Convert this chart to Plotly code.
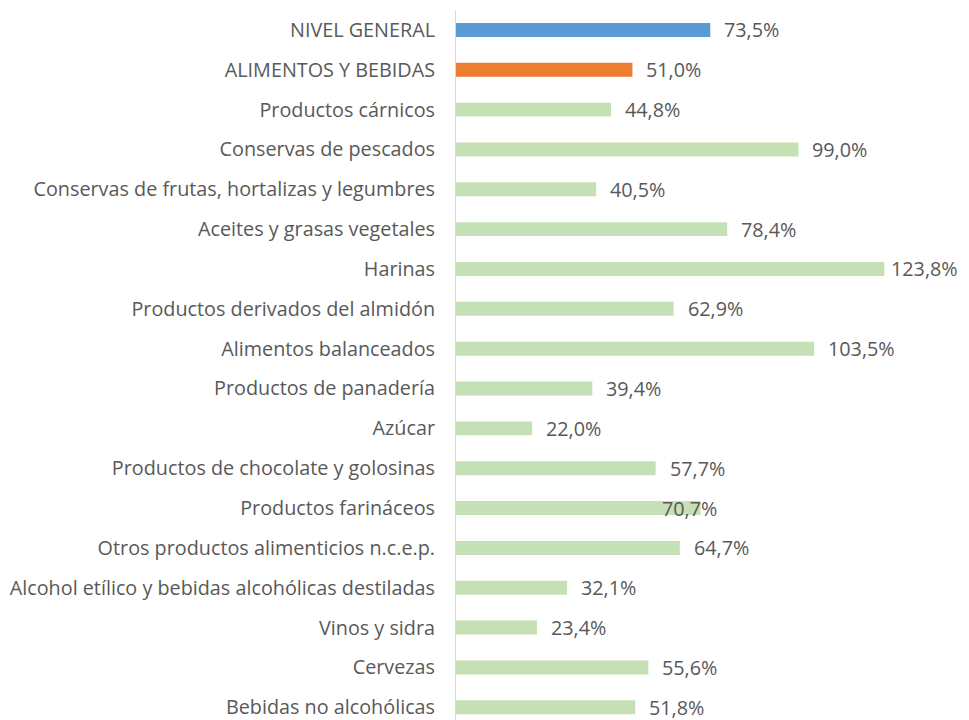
import plotly.graph_objects as go

categories = [
    "NIVEL GENERAL",
    "ALIMENTOS Y BEBIDAS",
    "Productos cárnicos",
    "Conservas de pescados",
    "Conservas de frutas, hortalizas y legumbres",
    "Aceites y grasas vegetales",
    "Harinas",
    "Productos derivados del almidón",
    "Alimentos balanceados",
    "Productos de panadería",
    "Azúcar",
    "Productos de chocolate y golosinas",
    "Productos farináceos",
    "Otros productos alimenticios n.c.e.p.",
    "Alcohol etílico y bebidas alcohólicas destiladas",
    "Vinos y sidra",
    "Cervezas",
    "Bebidas no alcohólicas",
]
values = [73.5, 51.0, 44.8, 99.0, 40.5, 78.4, 123.8, 62.9, 103.5, 39.4,
          22.0, 57.7, 70.7, 64.7, 32.1, 23.4, 55.6, 51.8]

colors = ["#5B9BD5", "#ED7D31"] + ["#C5E0B4"] * (len(categories) - 2)
labels = [f"{v:.1f}".replace(".", ",") + "%" for v in values]

FONT = "Open Sans"
TXT = "#595959"
FS = 19.8

fig = go.Figure(go.Bar(
    x=values, y=categories, orientation="h",
    marker=dict(color=colors, line=dict(width=0)),
    width=0.35,
))

for cat, v, lab in zip(categories, values, labels):
    shift = 13
    if cat == "Productos farináceos":
        shift = -40
    elif cat == "Harinas":
        shift = 6
    fig.add_annotation(x=v, y=cat, text=lab, showarrow=False,
                       xanchor="left", yanchor="middle", xshift=shift,
                       borderpad=0,
                       font=dict(family=FONT, size=FS, color=TXT))

fig.update_layout(
    width=969, height=720,
    margin=dict(l=448, r=0, t=2, b=0),
    plot_bgcolor="white", paper_bgcolor="white",
    showlegend=False,
    xaxis=dict(range=[0, 150.6], visible=False, fixedrange=True),
    yaxis=dict(
        type="category", range=[17.52, -0.5],
        showline=True, linecolor="#D9D9D9", linewidth=1,
        ticks="", showgrid=False, zeroline=False,
        tickfont=dict(family=FONT, size=FS, color=TXT),
        ticklabelstandoff=16,
    ),
)

fig.write_html("out.html")
